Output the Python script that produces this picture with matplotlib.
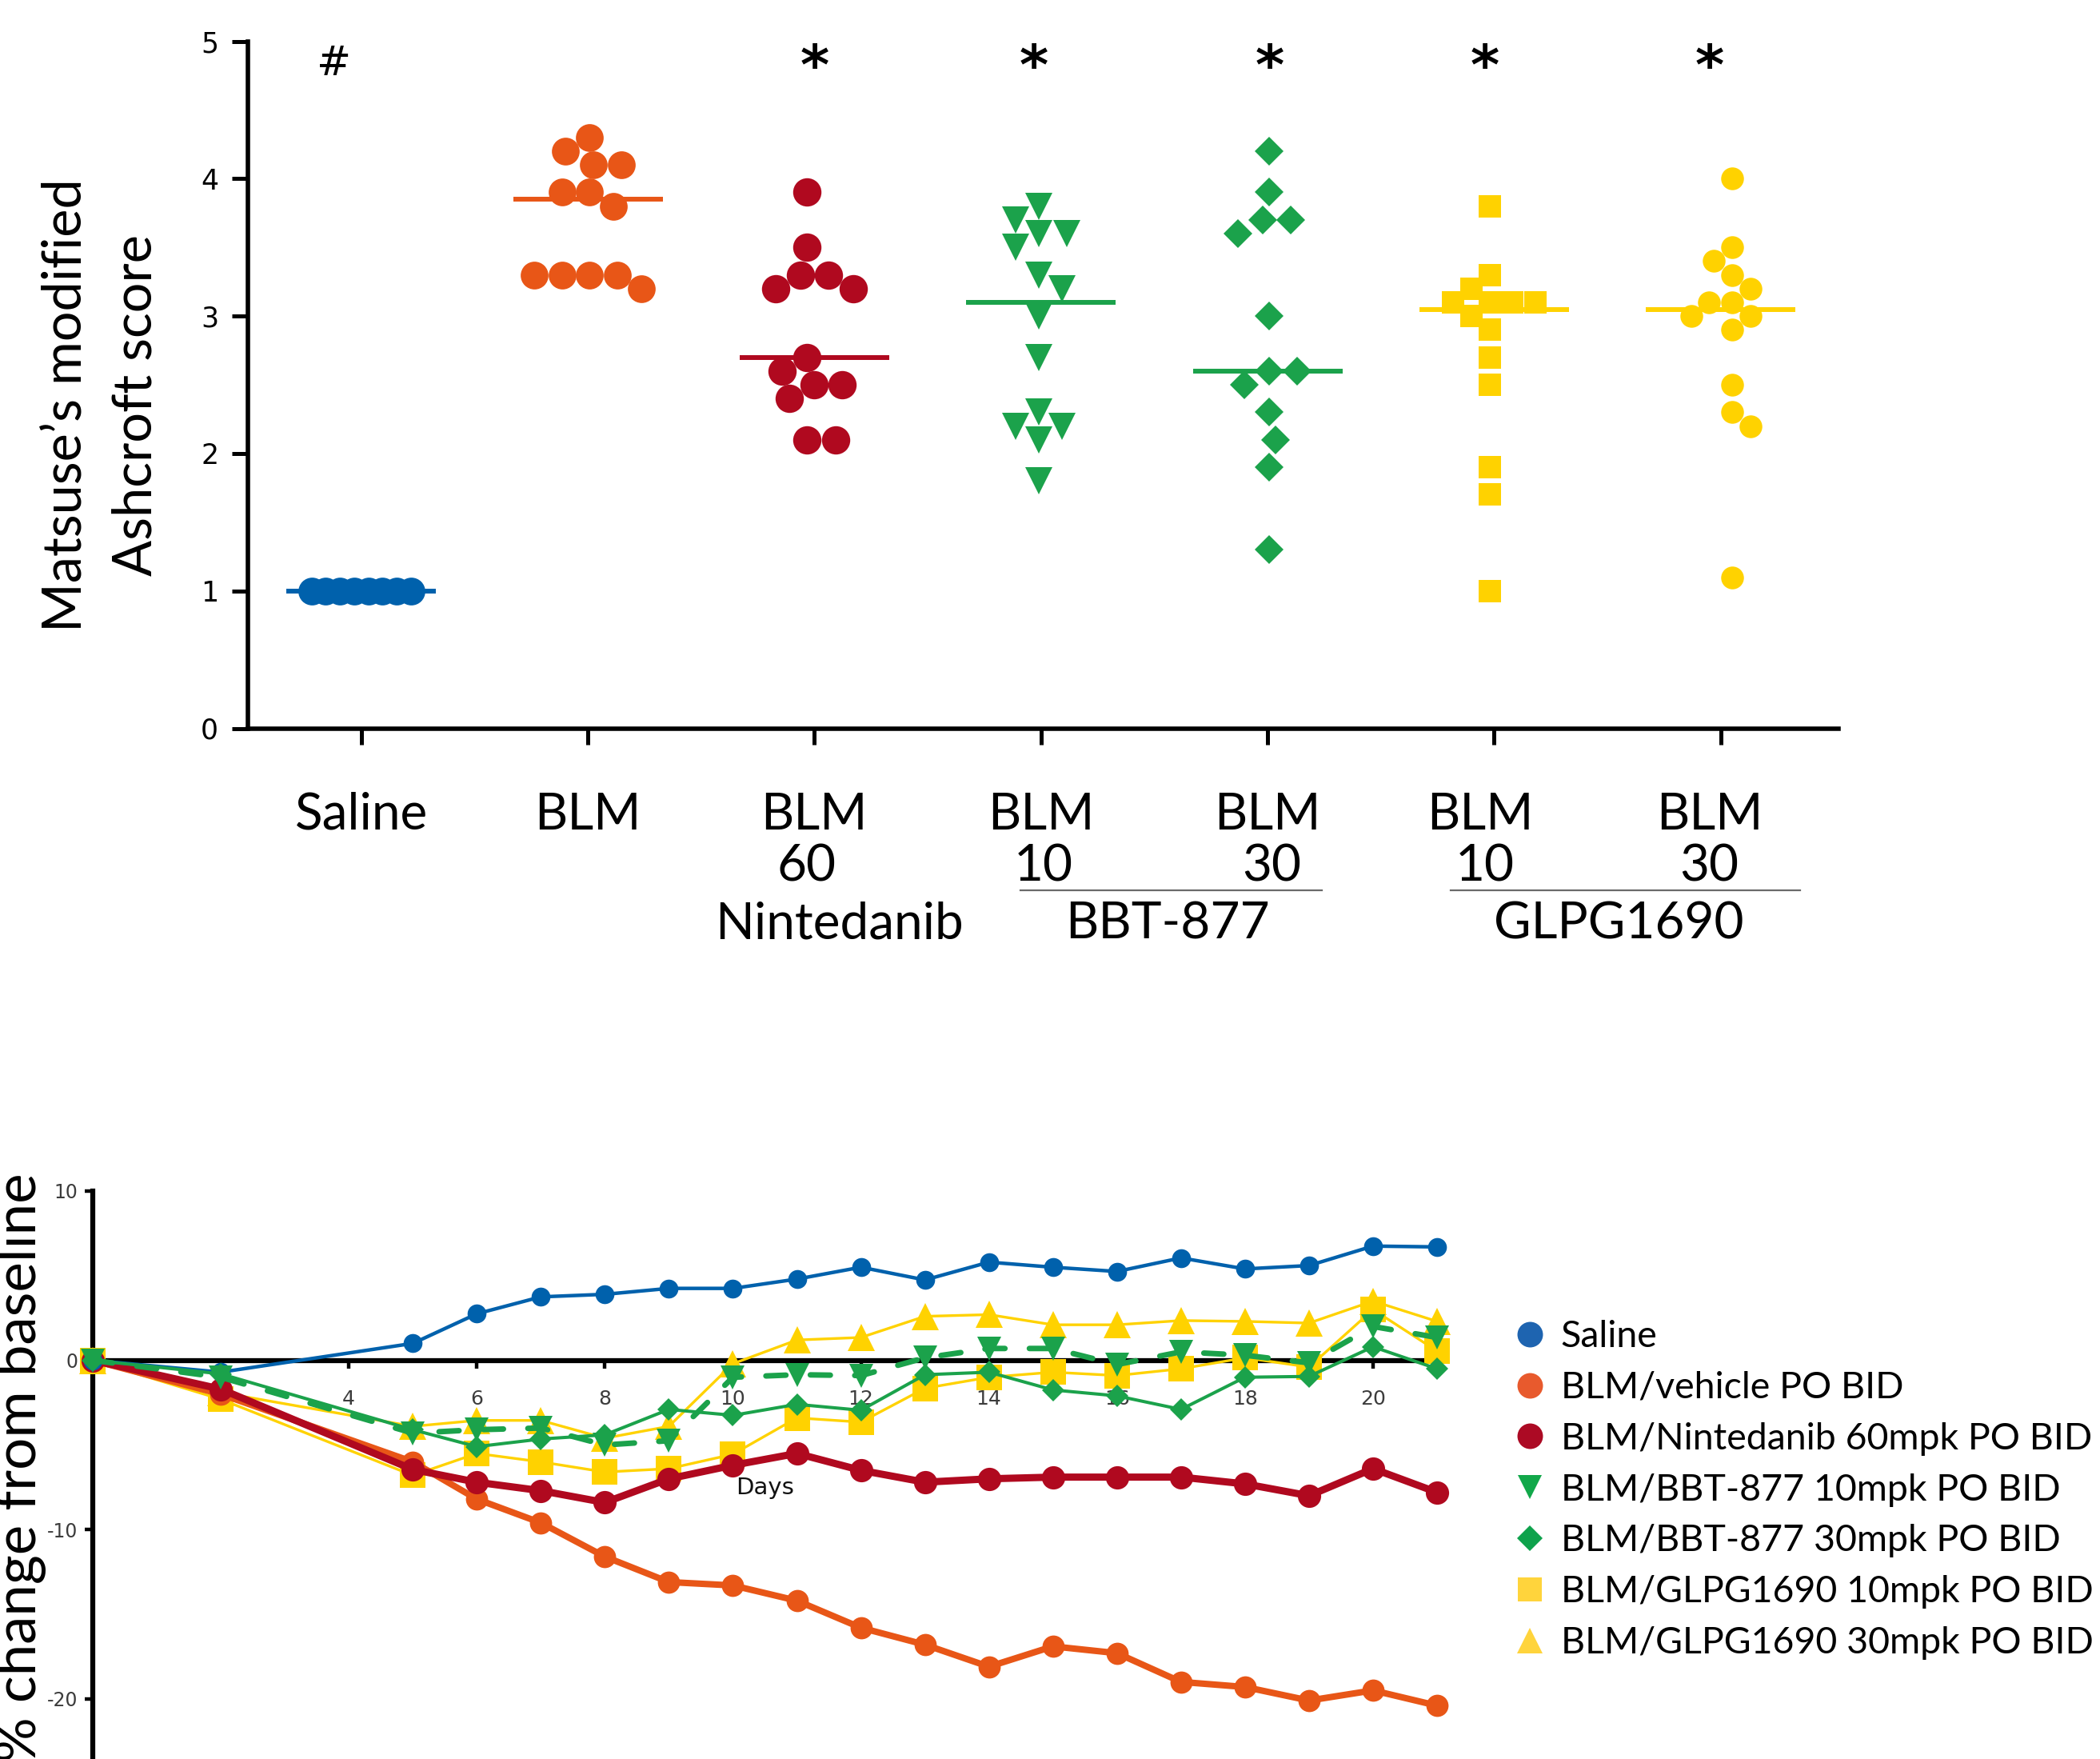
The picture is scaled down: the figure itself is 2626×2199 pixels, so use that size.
import numpy as np
import matplotlib
matplotlib.use("Agg")
import matplotlib.pyplot as plt
import matplotlib.transforms as mtransforms
from matplotlib.lines import Line2D

plt.rcParams['font.family'] = ['Lato', 'DejaVu Sans']

# ---------------- data: top panel (Matsuse's modified Ashcroft score) ----------------
group_row1 = ["Saline", "BLM", "BLM", "BLM", "BLM", "BLM", "BLM"]
group_row2 = ["", "", "60", "10", "30", "10", "30"]
drug_names = ["Nintedanib", "BBT-877", "GLPG1690"]
significance = ["#", "", "*", "*", "*", "*", "*"]

score_saline = [1.0, 1.0, 1.0, 1.0, 1.0, 1.0, 1.0, 1.0]
score_blm = [4.3, 4.2, 4.1, 4.1, 3.9, 3.9, 3.8, 3.3, 3.3, 3.3, 3.3, 3.2]
score_nintedanib60 = [3.9, 3.5, 3.3, 3.3, 3.2, 3.2, 2.7, 2.6, 2.5, 2.5, 2.4, 2.1, 2.1]
score_bbt877_10 = [3.8, 3.7, 3.6, 3.6, 3.5, 3.3, 3.2, 3.0, 2.7, 2.3, 2.2, 2.2, 2.1, 1.8]
score_bbt877_30 = [4.2, 3.9, 3.7, 3.7, 3.6, 3.0, 2.6, 2.6, 2.5, 2.3, 2.1, 1.9, 1.3]
score_glpg10 = [3.8, 3.3, 3.2, 3.1, 3.1, 3.1, 3.1, 3.0, 2.9, 2.7, 2.5, 1.9, 1.7, 1.0]
score_glpg30 = [4.0, 3.5, 3.4, 3.3, 3.2, 3.1, 3.1, 3.0, 3.0, 2.9, 2.5, 2.3, 2.2, 1.1]

# ---------------- data: bottom panel (% change in body weight) ----------------
days = [0, 2, 5, 6, 7, 8, 9, 10, 11, 12, 13, 14, 15, 16, 17, 18, 19, 20, 21]
bw_saline = [0, -0.7, 1.0, 2.75, 3.75, 3.9, 4.25, 4.25, 4.8, 5.5, 4.75, 5.8, 5.5, 5.25, 6.05, 5.4, 5.6, 6.75, 6.7]
bw_vehicle = [0, -2.0, -6.0, -8.2, -9.6, -11.6, -13.1, -13.3, -14.2, -15.8, -16.8, -18.1, -16.9, -17.3, -19.0, -19.3, -20.1, -19.5, -20.4]
bw_nintedanib60 = [0, -1.7, -6.45, -7.2, -7.7, -8.4, -7.0, -6.2, -5.5, -6.5, -7.2, -7.0, -6.9, -6.9, -6.9, -7.3, -8.0, -6.4, -7.8]
bw_bbt877_10 = [0, -1.0, -4.3, -4.1, -4.0, -5.0, -4.75, -1.0, -0.85, -0.9, 0.15, 0.7, 0.7, -0.25, 0.5, 0.3, -0.15, 2.0, 1.35]
bw_bbt877_30 = [0, -0.8, -4.1, -5.1, -4.65, -4.4, -2.9, -3.25, -2.6, -2.95, -0.85, -0.7, -1.75, -2.1, -2.9, -1.0, -0.95, 0.8, -0.5]
bw_glpg10 = [0, -2.3, -6.8, -5.5, -6.0, -6.6, -6.4, -5.55, -3.4, -3.65, -1.65, -1.0, -0.7, -0.9, -0.5, 0.15, -0.4, 3.0, 0.55]
bw_glpg30 = [0, -1.9, -3.9, -3.55, -3.55, -4.6, -3.9, -0.2, 1.2, 1.35, 2.6, 2.7, 2.1, 2.1, 2.35, 2.3, 2.2, 3.5, 2.3]

legend_labels = ["Saline", "BLM/vehicle PO BID", "BLM/Nintedanib 60mpk PO BID",
                 "BLM/BBT-877 10mpk PO BID", "BLM/BBT-877 30mpk PO BID",
                 "BLM/GLPG1690 10mpk PO BID", "BLM/GLPG1690 30mpk PO BID"]
day_ticks = [4, 6, 8, 10, 12, 14, 16, 18, 20]
bw_yticks = [10, 0, -10, -20]

# ---------------- styles ----------------
BLUE = "#0061AC"
ORANGE = "#E85617"
RED = "#B0091F"
GREEN = "#1BA24B"
YELLOW = "#FFD200"

W, H = 2626, 2199
fig = plt.figure(figsize=(W / 100, H / 100), dpi=100)


def fx(px):
    return px / W


def fy(py):
    return 1 - py / H


def swarm_offsets(values, dx, dy, max_half):
    """Simple beeswarm: place points (high to low) at the free x nearest to centre."""
    vals = np.asarray(values, dtype=float)
    order = np.argsort(-vals, kind="stable")
    px, py = [], []
    offs = np.zeros(len(vals))
    prefer = -1.0
    for i in order:
        y = vals[i]
        reqs = []
        for xj, yj in zip(px, py):
            t = (y - yj) / dy
            if abs(t) < 0.999:
                reqs.append((xj, dx * np.sqrt(1.0 - t * t)))
        cands = [0.0] + [xj + s * r for xj, r in reqs for s in (-1.0, 1.0)]
        valid = [c for c in cands if all(abs(c - xj) >= r - 1e-9 for xj, r in reqs)]
        best = min(valid, key=lambda c: (round(abs(c), 6), -prefer * c))
        if abs(best) > 1e-9:
            prefer = -np.sign(best)
        offs[i] = best
        px.append(best)
        py.append(y)
    span = np.max(np.abs(offs))
    if span > max_half:
        offs *= max_half / span
    offs -= (offs.max() + offs.min()) / 2.0
    return offs


# =============================== TOP PANEL ===============================
ax1 = fig.add_axes([fx(310), fy(910.5), fx(2299) - fx(310), fy(51.5) - fy(910.5)])
ax1.set_xlim(-0.5, 6.52)
ax1.set_ylim(0, 5)

top_groups = [score_saline, score_blm, score_nintedanib60, score_bbt877_10,
              score_bbt877_30, score_glpg10, score_glpg30]
top_markers = ['o', 'o', 'o', 'v', 'D', 's', 'o']
top_colors = [BLUE, ORANGE, RED, GREEN, GREEN, YELLOW, YELLOW]
top_ms = [25, 25, 25.5, 25, 18, 20.5, 20.5]
px_per_cat = (2299 - 310) / 7.02
px_per_score = (910.5 - 51.5) / 5.0

for i, (vals, m, c, ms) in enumerate(zip(top_groups, top_markers, top_colors, top_ms)):
    ms_px = ms * 100 / 72.0
    width_px = ms_px * (1.414 if m == 'D' else 1.0)
    height_px = width_px * (0.92 if m == 'v' else 1.0)
    offs = swarm_offsets(vals, width_px / px_per_cat, height_px / px_per_score, 0.25)
    ax1.plot(i + offs, vals, linestyle='none', marker=m, ms=ms, color=c, mew=0,
             clip_on=False, zorder=3)
    med = float(np.median(vals))
    ax1.plot([i - 0.33, i + 0.33], [med, med], color=c, lw=4.3,
             solid_capstyle='butt', zorder=4)

for s in ['top', 'right']:
    ax1.spines[s].set_visible(False)
for s in ['left', 'bottom']:
    ax1.spines[s].set_linewidth(4)
ax1.set_xticks(range(7))
ax1.set_xticklabels([])
ax1.set_yticks([0, 1, 2, 3, 4, 5])
ax1.tick_params(axis='both', direction='out', length=14.5, width=3.6, color='black')
ax1.tick_params(axis='y', labelsize=25, pad=12, labelfontfamily='DejaVu Sans')

# significance marks
sig_dx = [-0.12, 0, 0, -0.03, 0.01, -0.04, -0.05]
for i, (sg, d) in enumerate(zip(significance, sig_dx)):
    if sg == '#':
        ax1.text(i + d, 4.753, sg, ha='center', va='baseline', fontsize=37,
                 family='DejaVu Sans', clip_on=False)
    elif sg == '*':
        ax1.text(i + d, 4.69, sg, ha='center', va='baseline', fontsize=50,
                 family='DejaVu Sans', fontweight='bold', clip_on=False)

# category labels
trans = mtransforms.blended_transform_factory(ax1.transData, fig.transFigure)
row1_dx = [0, 0, 0, 0, 0, -0.06, -0.05]
row2_dx = [0, 0, -0.034, 0.01, 0.02, -0.04, -0.05]
for i, (t1, t2) in enumerate(zip(group_row1, group_row2)):
    ax1.text(i + row1_dx[i], fy(1037), t1, transform=trans, ha='center',
             va='baseline', fontsize=46, family='Lato')
    if t2:
        ax1.text(i + row2_dx[i], fy(1102), t2, transform=trans, ha='center',
                 va='baseline', fontsize=46, family='Lato')
drug_x = [2 + 0.11, 3.5 + 0.06, 5.5 + 0.05]
for name, xx in zip(drug_names, drug_x):
    ax1.text(xx, fy(1173), name, transform=trans, ha='center', va='baseline',
             fontsize=46, family='Lato')
for x0, x1 in [(3 - 0.09, 4 + 0.24), (5 - 0.19, 6 + 0.35)]:
    ax1.add_line(Line2D([x0, x1], [fy(1113), fy(1113)], transform=trans,
                        color='#6a6a6a', lw=1.6, clip_on=False))

fig.text(fx(102), fy(507), "Matsuse\u2019s modified", rotation=90, rotation_mode='anchor',
         ha='center', va='baseline', fontsize=48, family='Lato')
fig.text(fx(189), fy(506), "Ashcroft score", rotation=90, rotation_mode='anchor',
         ha='center', va='baseline', fontsize=48, family='Lato')

# =============================== BOTTOM PANEL ===============================
ax2 = fig.add_axes([fx(116), fy(2229.6), fx(1809) - fx(116), fy(1489) - fy(2229.6)])
ax2.set_xlim(0, 21.15)
ax2.set_ylim(-25, 10)

series = [
    (bw_glpg10, 's', YELLOW, 2.4, None, 22.8, 3),
    (bw_glpg30, '^', YELLOW, 2.4, None, 24, 4),
    (bw_vehicle, 'o', ORANGE, 5.8, None, 20, 5),
    (bw_nintedanib60, 'o', RED, 6.5, None, 21, 6),
    (bw_saline, 'o', BLUE, 3.2, None, 17, 7),
    (bw_bbt877_30, 'D', GREEN, 2.9, None, 14.5, 8),
    (bw_bbt877_10, 'v', GREEN, 5.0, (3.6, 4.4), 21, 9),
]
for vals, m, c, lw, dash, ms, z in series:
    ln, = ax2.plot(days, vals, color=c, lw=lw, marker=m, ms=ms, mew=0,
                   clip_on=False, zorder=z, solid_joinstyle='round')
    if dash is not None:
        ln.set_dashes(dash)
        ln.set_dash_capstyle('round')

for s in ['top', 'right']:
    ax2.spines[s].set_visible(False)
ax2.spines['bottom'].set_position(('data', 0))
for s in ['left', 'bottom']:
    ax2.spines[s].set_linewidth(4.5)
ax2.set_xticks(day_ticks)
ax2.set_xticklabels([str(d) for d in day_ticks])
ax2.set_yticks(bw_yticks)
ax2.set_yticklabels([str(v) for v in bw_yticks])
ax2.tick_params(axis='both', direction='out', length=7.5, width=3.2, color='black',
                labelcolor='#3c3c3c', labelfontfamily='DejaVu Sans')
ax2.tick_params(axis='x', labelsize=18, pad=19)
ax2.tick_params(axis='y', labelsize=17, pad=6)

ax2.text(10.5, -7.9, "Days", ha='center', va='baseline', fontsize=21,
         family='DejaVu Sans', color='#111111', zorder=2)

fig.text(fx(45), fy(1835), "% change from baseline", rotation=90, rotation_mode='anchor',
         ha='center', va='baseline', fontsize=51, family='Lato')

# legend
leg_markers = ['o', 'o', 'o', 'v', 'D', 's', '^']
leg_colors = ["#1E64B0", "#E85A2D", "#AC0A24", "#12A84A", "#0EA24C", "#FFD43C", "#FFD43C"]
leg_ms = [23, 23, 23, 22, 16, 22, 22.5]
handles = [Line2D([], [], linestyle='none', marker=m, ms=s, color=c, mew=0)
           for m, c, s in zip(leg_markers, leg_colors, leg_ms)]
fig.legend(handles, legend_labels, loc='upper left', bbox_to_anchor=(fx(1890), fy(1650)),
           frameon=False, prop={'family': 'Lato', 'size': 33.5}, handlelength=1.0,
           handletextpad=0.33, labelspacing=0.47, borderpad=0, borderaxespad=0)

fig.savefig("out.png", dpi=100)
